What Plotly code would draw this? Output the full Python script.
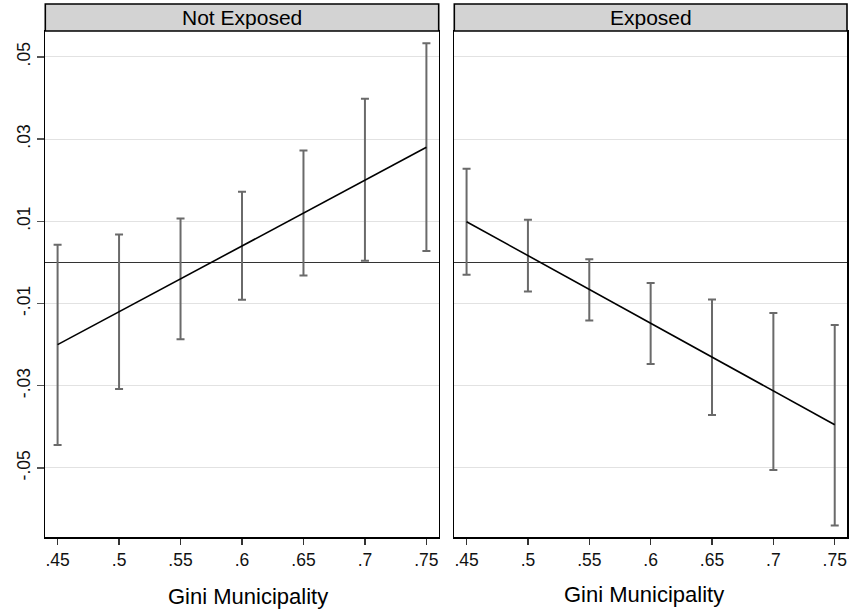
import plotly.graph_objects as go

# ---- data ----
gini = [0.45, 0.50, 0.55, 0.60, 0.65, 0.70, 0.75]
gini_ticktext = [".45", ".5", ".55", ".6", ".65", ".7", ".75"]
y_tickvals = [0.05, 0.03, 0.01, -0.01, -0.03, -0.05]
y_ticktext = [".05", ".03", ".01", "-.01", "-.03", "-.05"]

panel_titles = ["Not Exposed", "Exposed"]

not_exposed_est = [-0.0200, -0.0120, -0.0040, 0.0040, 0.0120, 0.0200, 0.0280]
not_exposed_upper = [0.0043, 0.0068, 0.0107, 0.0172, 0.0272, 0.0398, 0.0533]
not_exposed_lower = [-0.0444, -0.0308, -0.0187, -0.0091, -0.0032, 0.0004, 0.0028]

exposed_est = [0.0099, 0.0017, -0.0066, -0.0148, -0.0230, -0.0313, -0.0395]
exposed_upper = [0.0228, 0.0104, 0.0008, -0.0050, -0.0090, -0.0123, -0.0152]
exposed_lower = [-0.0030, -0.0071, -0.0141, -0.0247, -0.0371, -0.0505, -0.0640]

# ---- layout geometry ----
W, H = 850, 614
FONT = "Liberation Sans, Arial, sans-serif"


def px_x(p):
    return p / W


def px_y(p):
    return 1 - p / H


x1_dom = [px_x(45.3), px_x(438.7)]
x2_dom = [px_x(454.3), px_x(847.0)]
y_dom = [px_y(537), px_y(31)]
head_y = [px_y(31), px_y(4)]

fig = go.Figure()

panels = [
    (not_exposed_est, not_exposed_upper, not_exposed_lower, "x", "y"),
    (exposed_est, exposed_upper, exposed_lower, "x2", "y2"),
]
for est, up, lo, xa, ya in panels:
    fig.add_trace(go.Scatter(
        x=gini, y=est, mode="markers", xaxis=xa, yaxis=ya,
        marker=dict(size=0.1, color="rgba(0,0,0,0)"),
        error_y=dict(type="data", symmetric=False,
                     array=[u - e for u, e in zip(up, est)],
                     arrayminus=[e - l for e, l in zip(est, lo)],
                     color="#6a6a6a", thickness=2, width=4),
        showlegend=False, hoverinfo="skip"))
    fig.add_trace(go.Scatter(
        x=gini, y=est, mode="lines", xaxis=xa, yaxis=ya,
        line=dict(color="black", width=1.6),
        showlegend=False))

xcommon = dict(range=[0.44, 0.76], tickvals=gini, ticktext=gini_ticktext,
               ticks="outside", ticklen=6, tickwidth=1.3, tickcolor="#333",
               showline=True, linecolor="black", linewidth=1.5, mirror=True,
               showgrid=False, zeroline=False,
               tickfont=dict(family=FONT, size=17.5, color="#111"))
ycommon = dict(range=[-0.0668, 0.0563], tickvals=y_tickvals,
               showline=True, linecolor="black", linewidth=1.5, mirror=True,
               showgrid=True, gridcolor="#e2e2e2", gridwidth=1,
               zeroline=True, zerolinecolor="#333333", zerolinewidth=1.8,
               domain=y_dom)

fig.update_layout(
    width=W, height=H,
    margin=dict(l=0, r=0, t=0, b=0),
    paper_bgcolor="white", plot_bgcolor="white",
    xaxis=dict(domain=x1_dom, anchor="y", **xcommon),
    xaxis2=dict(domain=x2_dom, anchor="y2", **xcommon),
    yaxis=dict(anchor="x", ticktext=y_ticktext, tickangle=-90,
               ticks="outside", ticklen=7, tickwidth=1.3, tickcolor="#555",
               tickfont=dict(family=FONT, size=17.5, color="#111"),
               **ycommon),
    yaxis2=dict(anchor="x2", showticklabels=False, ticks="", **ycommon),
    font=dict(family=FONT, color="black"),
)

# panel header strips
for dom, title in zip([x1_dom, x2_dom], panel_titles):
    fig.add_shape(type="rect", xref="paper", yref="paper",
                  x0=dom[0], x1=dom[1], y0=head_y[0], y1=head_y[1],
                  fillcolor="#d3d3d3", line=dict(color="black", width=1.6))
    fig.add_annotation(xref="paper", yref="paper",
                       x=(dom[0] + dom[1]) / 2, y=(head_y[0] + head_y[1]) / 2,
                       text=title, showarrow=False,
                       xanchor="center", yanchor="middle",
                       font=dict(family=FONT, size=21, color="black"))

# x-axis titles
fig.add_annotation(xref="paper", yref="paper", x=px_x(248), y=px_y(596),
                   text="Gini Municipality", showarrow=False,
                   xanchor="center", yanchor="middle",
                   font=dict(family=FONT, size=22, color="black"))
fig.add_annotation(xref="paper", yref="paper", x=px_x(644), y=px_y(594),
                   text="Gini Municipality", showarrow=False,
                   xanchor="center", yanchor="middle",
                   font=dict(family=FONT, size=22, color="black"))

fig.write_html(
    "out.html",
    config={"displayModeBar": False, "staticPlot": True},
    post_script="document.body.style.margin='0px';"
                "document.body.style.overflow='hidden';",
)
